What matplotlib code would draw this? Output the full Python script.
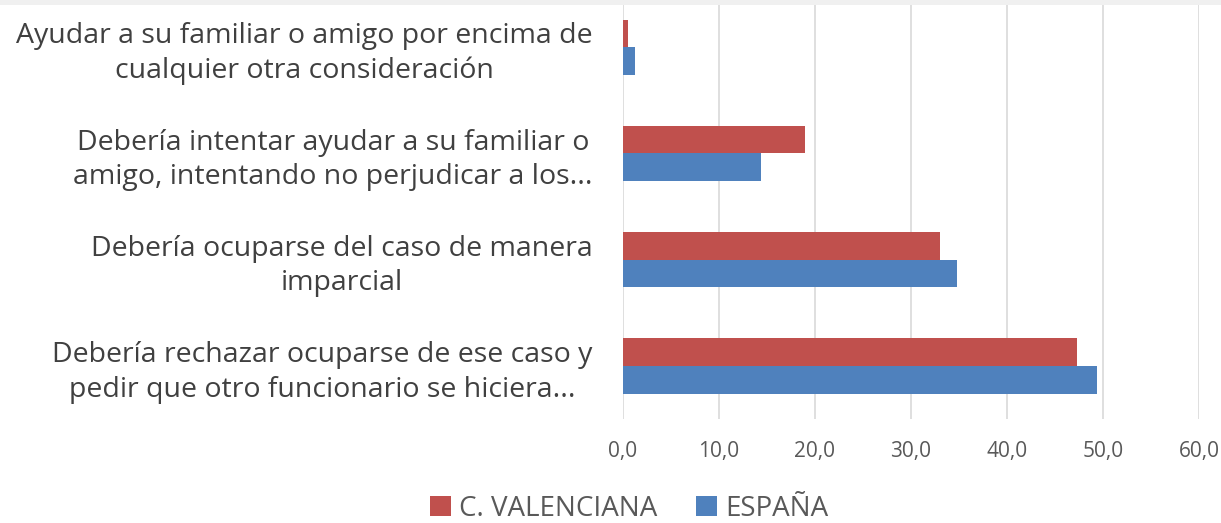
import matplotlib.pyplot as plt
from matplotlib.patches import Rectangle

# data
categorias = [
    'Ayudar a su familiar o amigo por encima de\ncualquier otra consideración',
    'Debería intentar ayudar a su familiar o\namigo, intentando no perjudicar a los...',
    'Debería ocuparse del caso de manera\nimparcial',
    'Debería rechazar ocuparse de ese caso y\npedir que otro funcionario se hiciera...',
]
valenciana = [0.5, 19.0, 33.0, 47.3]
espana = [1.2, 14.4, 34.8, 49.4]
series_names = ['C. VALENCIANA', 'ESPAÑA']
xticks = [0, 10, 20, 30, 40, 50, 60]

RED = '#C0504D'
BLUE = '#4F81BD'
GRAY_TXT = '#595959'

plt.rcParams['font.family'] = ['Open Sans', 'DejaVu Sans']

fig = plt.figure(figsize=(12.21, 5.23), dpi=100)
ax = fig.add_axes([623 / 1221, 104 / 523, 576 / 1221, 425 / 523])

pos = list(range(len(categorias)))
h = 0.26
ax.barh([p - h / 2 for p in pos], valenciana, height=h, color=RED,
        label=series_names[0], zorder=3)
ax.barh([p + h / 2 for p in pos], espana, height=h, color=BLUE,
        label=series_names[1], zorder=3)

ax.set_ylim(3.5, -0.5)
ax.set_xlim(0, 60)
ax.set_xticks(xticks)
ax.xaxis.set_major_formatter(plt.FuncFormatter(lambda v, p: ('%.1f' % v).replace('.', ',')))
ax.set_yticks(pos)
ax.set_yticklabels(categorias, multialignment='center', linespacing=1.3)

ax.tick_params(axis='y', length=0, pad=22, labelsize=20.5, labelcolor='#404040')
ax.tick_params(axis='x', length=0, pad=16, labelsize=15, labelcolor=GRAY_TXT)

ax.grid(axis='x', color='#D9D9D9', linewidth=1.2, zorder=0)
for s in ax.spines.values():
    s.set_visible(False)

leg = fig.legend(loc='center', bbox_to_anchor=(629 / 1221, 1 - 509 / 523), ncol=2,
                 frameon=False, fontsize=20, handlelength=0.75, handleheight=0.75,
                 handletextpad=0.3, columnspacing=1.4)
for t in leg.get_texts():
    t.set_color(GRAY_TXT)

# light gray strip along the top edge
fig.patches.append(Rectangle((0, 1 - 5 / 523), 1, 5 / 523, transform=fig.transFigure,
                             facecolor='#F0F0F0', edgecolor='none', zorder=10))

fig.savefig('out.png', dpi=100)
